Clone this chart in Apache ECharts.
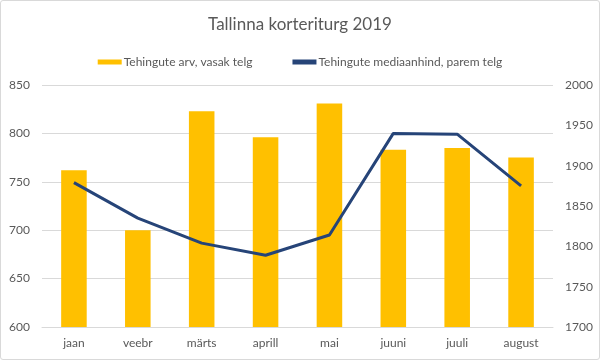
<!DOCTYPE html>
<html><head><meta charset="utf-8">
<script src="https://cdn.jsdelivr.net/npm/echarts@6/dist/echarts.min.js"></script>
<style>
html,body{margin:0;padding:0;background:#fff;}
#c{position:absolute;left:0;top:0;width:598px;height:358px;border:1px solid #d9d9d9;border-radius:3px;}
</style></head>
<body><div id="c"></div>
<script>
const categories = ['jaan','veebr','märts','aprill','mai','juuni','juuli','august'];
const dealCounts = [762, 700, 823, 796, 831, 783, 785, 775];
const medianPrices = [1879, 1835, 1804, 1789, 1814, 1940, 1939, 1875];
const leftTicks = [600, 850, 50];
const rightTicks = [1700, 2000, 50];

const chart = echarts.init(document.getElementById('c'), null, {renderer:'canvas'});
const font = 'Lato, "Open Sans", sans-serif';
chart.setOption({
  animation:false,
  textStyle:{fontFamily:font},
  title:{text:'Tallinna korteriturg 2019', left:'center', top:10,
    textStyle:{fontFamily:font, fontSize:17, fontWeight:'normal', color:'#595959'}},
  legend:{top:50, left:'center', itemGap:40, itemWidth:24, itemHeight:5,
    textStyle:{fontFamily:font, fontSize:12, color:'#595959', padding:[0,0,0,-3]},
    data:[{name:'Tehingute arv, vasak telg', icon:'rect'},{name:'Tehingute mediaanhind, parem telg', icon:'rect'}]},
  grid:{left:41, right:46, top:84, bottom:32},
  xAxis:{type:'category', data:categories,
    axisLine:{lineStyle:{color:'#d9d9d9'}}, axisTick:{show:false},
    axisLabel:{color:'#595959', fontSize:12, margin:10}},
  yAxis:[
    {type:'value', min:leftTicks[0], max:leftTicks[1], interval:leftTicks[2],
     axisLine:{show:false}, axisTick:{show:false},
     axisLabel:{color:'#595959', fontSize:12, margin:12, formatter:v=>String(v)},
     splitLine:{lineStyle:{color:'#d9d9d9'}}},
    {type:'value', min:rightTicks[0], max:rightTicks[1], interval:rightTicks[2],
     axisLine:{show:false}, axisTick:{show:false},
     axisLabel:{color:'#595959', fontSize:12, margin:12, formatter:v=>String(v)},
     splitLine:{show:false}}
  ],
  series:[
    {name:'Tehingute arv, vasak telg', type:'bar', data:dealCounts, yAxisIndex:0,
     barWidth:'40%', itemStyle:{color:'#FFC000'}},
    {name:'Tehingute mediaanhind, parem telg', type:'line', data:medianPrices, yAxisIndex:1,
     symbol:'none', lineStyle:{color:'#264478', width:3}, itemStyle:{color:'#264478'}}
  ]
});
</script></body></html>
